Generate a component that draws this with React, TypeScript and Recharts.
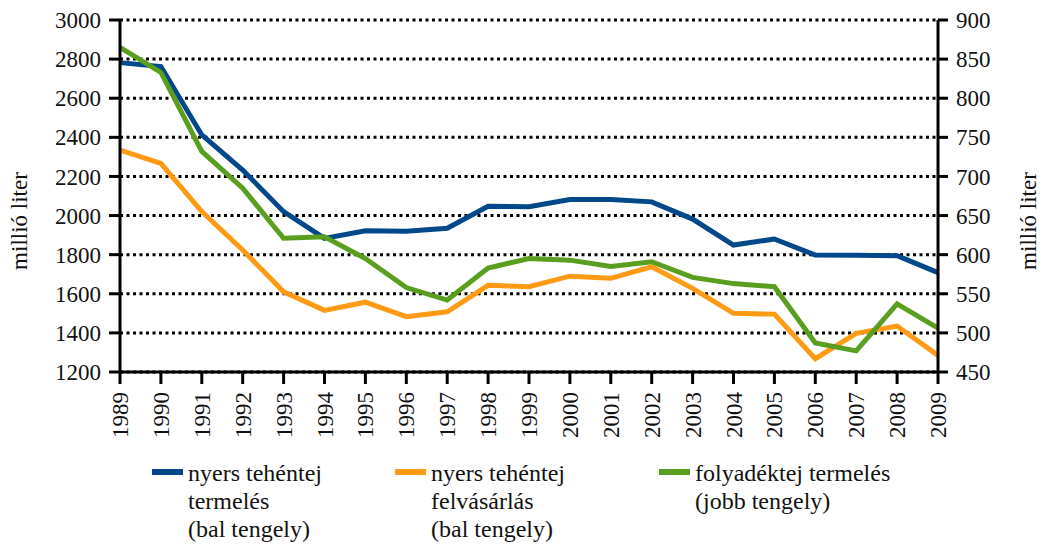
import { LineChart, Line, XAxis, YAxis, CartesianGrid, Legend } from 'recharts';

const years = ['1989', '1990', '1991', '1992', '1993', '1994', '1995', '1996', '1997', '1998', '1999', '2000', '2001', '2002', '2003', '2004', '2005', '2006', '2007', '2008', '2009'];
const rawProduction = [2782, 2762, 2412, 2233, 2020, 1883, 1922, 1920, 1935, 2047, 2045, 2082, 2082, 2070, 1982, 1849, 1880, 1798, 1797, 1795, 1708];
const rawPurchase = [2335, 2267, 2020, 1824, 1610, 1515, 1557, 1483, 1508, 1643, 1636, 1690, 1679, 1738, 1628, 1500, 1496, 1268, 1398, 1435, 1285];
const liquidMilk = [865, 833, 732, 685, 621, 623, 595, 558, 542, 583, 595, 593, 585, 591, 571, 563, 559, 487, 477, 537, 506];

const leftTicks = [1200, 1400, 1600, 1800, 2000, 2200, 2400, 2600, 2800, 3000];
const rightTicks = [450, 500, 550, 600, 650, 700, 750, 800, 850, 900];

const legendItems = [
  { color: '#00488A', lines: ['nyers tehéntej', 'termelés', '(bal tengely)'], left: 152 },
  { color: '#FF9A14', lines: ['nyers tehéntej', 'felvásárlás', '(bal tengely)'], left: 395 },
  { color: '#5A9E1F', lines: ['folyadéktej termelés', '(jobb tengely)'], left: 659 },
];

const data = years.map((y, i) => ({
  year: y,
  prod: rawProduction[i],
  purchase: rawPurchase[i],
  liquid: liquidMilk[i],
}));

const FONT = "'Liberation Serif', 'Tinos', monospace";

function YearTick({ x, y, payload }: any) {
  return (
    <text
      x={x}
      y={y}
      transform={`rotate(-90, ${x}, ${y})`}
      textAnchor="end"
      dy="0.35em"
      fontFamily={FONT}
      fontSize={23}
      fill="#111"
    >
      {payload.value}
    </text>
  );
}

function LegendBox() {
  return (
    <div style={{ position: 'relative', height: 89, width: 1044, fontFamily: FONT, fontSize: 24, color: '#111' }}>
      {legendItems.map((it) => (
        <div key={it.left} style={{ position: 'absolute', left: it.left, top: 2 }}>
          <div style={{ position: 'absolute', left: 0, top: 10, width: 31, height: 6, background: it.color }} />
          <div style={{ marginLeft: 36, lineHeight: '28px', whiteSpace: 'nowrap' }}>
            {it.lines.map((l) => (
              <div key={l}>{l}</div>
            ))}
          </div>
        </div>
      ))}
    </div>
  );
}

function AxisTitle({ viewBox, cx }: any) {
  const y = viewBox.y + 201;
  return (
    <text
      x={cx}
      y={y}
      transform={`rotate(-90, ${cx}, ${y})`}
      textAnchor="middle"
      dy="0.35em"
      fontFamily={FONT}
      fontSize={23}
      fill="#111"
    >
      millió liter
    </text>
  );
}

export default function App() {
  const axisStyle = { stroke: '#000', strokeWidth: 3 };
  const tickFont = { fontSize: 23, fill: '#111', fontFamily: FONT };
  return (
    <div style={{ position: 'absolute', left: 0, top: 0, background: '#fff', fontFamily: FONT }}>
      <LineChart width={1044} height={546} data={data} margin={{ top: 20, right: 0, bottom: 0, left: 0 }}>
        <CartesianGrid
          yAxisId="left"
          vertical={false}
          horizontal
          stroke="#000"
          strokeWidth={3}
          strokeDasharray="3 3.5"
        />
        <XAxis
          dataKey="year"
          height={85}
          interval={0}
          tick={<YearTick />}
          tickSize={12}
          tickMargin={8}
          axisLine={axisStyle}
          tickLine={axisStyle}
        />
        <YAxis
          yAxisId="left"
          width={120}
          domain={[1200, 3000]}
          ticks={leftTicks}
          tickSize={11}
          tickMargin={8}
          tick={tickFont}
          axisLine={axisStyle}
          tickLine={axisStyle}
          label={(p: any) => <AxisTitle {...p} cx={19} />}
        />
        <YAxis
          yAxisId="right"
          orientation="right"
          width={106}
          domain={[450, 900]}
          ticks={rightTicks}
          tickSize={10}
          tickMargin={8}
          tick={tickFont}
          axisLine={axisStyle}
          tickLine={axisStyle}
          label={(p: any) => <AxisTitle {...p} cx={1028} />}
        />
        <Legend verticalAlign="bottom" content={() => <LegendBox />} />
        <Line yAxisId="left" type="linear" dataKey="prod" stroke="#00488A" strokeWidth={5} dot={false} isAnimationActive={false} />
        <Line yAxisId="left" type="linear" dataKey="purchase" stroke="#FF9A14" strokeWidth={5} dot={false} isAnimationActive={false} />
        <Line yAxisId="right" type="linear" dataKey="liquid" stroke="#5A9E1F" strokeWidth={5} dot={false} isAnimationActive={false} />
      </LineChart>
    </div>
  );
}
